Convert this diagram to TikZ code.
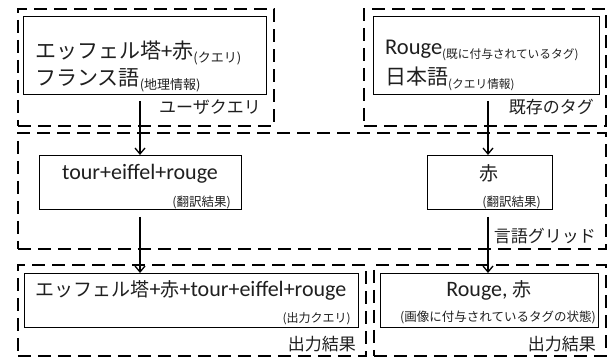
\documentclass[tikz,border=0pt]{standalone}
\usepackage{fontspec}
\setmainfont{Carlito}
\newfontfamily\jpf{Noto Sans CJK JP}
\usetikzlibrary{arrows.meta}
\newcommand\jA[1]{{\fontsize{21}{21}\selectfont\jpf #1}}
\newcommand\jB[1]{{\fontsize{19}{19}\selectfont\jpf #1}}
\newcommand\annoL[1]{\raisebox{-4pt}{\fontsize{13}{13}\selectfont\jpf #1}}
\newcommand\annoR[1]{\raisebox{-4pt}{\fontsize{11.7}{11.7}\selectfont\jpf #1}}
\begin{document}
\begin{tikzpicture}[x=1pt,y=-1pt,
  outer/.style={draw, line width=1.8pt, dash pattern=on 13pt off 7pt, inner sep=0pt, anchor=north west},
  box/.style={draw, line width=1.4pt, inner sep=0pt, anchor=north west},
  txt/.style={inner sep=0pt, text=black!88},
  big/.style={txt, font=\fontsize{22.5}{22.5}\selectfont},
  mid/.style={txt, font=\fontsize{22}{22}\selectfont},
  small/.style={txt, font=\fontsize{12.5}{12.5}\selectfont\jpf},
  lab/.style={txt, font=\fontsize{17}{17}\selectfont\jpf, anchor=base east},
  arr/.style={line width=1.3pt, -{Straight Barb[length=6pt,width=10pt,line width=1.3pt]}}
]
\useasboundingbox (0,0) rectangle (611,358);
% dashed groups
\node[outer, minimum width=256pt, minimum height=117pt] (gUser) at (17,8) {};
\node[outer, minimum width=242pt, minimum height=117pt] (gTag) at (363,8) {};
\node[outer, minimum width=588pt, minimum height=116pt] (gGrid) at (17,132) {};
\node[outer, minimum width=348pt, minimum height=91pt] (gOutL) at (17,264) {};
\node[outer, minimum width=232pt, minimum height=91pt] (gOutR) at (373,264) {};
% solid boxes
\node[box, minimum width=243pt, minimum height=78pt] (query) at (23,16) {};
\node[box, minimum width=226pt, minimum height=78pt] (tag) at (373,16) {};
\node[box, minimum width=202pt, minimum height=54pt] (tour) at (39,155) {};
\node[box, minimum width=125pt, minimum height=54pt] (aka) at (427,155) {};
\node[box, minimum width=334pt, minimum height=54pt] (outq) at (24,273) {};
\node[box, minimum width=218pt, minimum height=54pt] (outt) at (380,273) {};
% texts
\node[big, anchor=base west] (q1) at (35,59) {\jA{エッフェル塔}+\jA{赤}\annoL{(クエリ)}};
\node[big, anchor=base west] (q2) at (35,86) {\jA{フランス語}\annoL{(地理情報)}};
\node[big, anchor=base west] (t1) at (385,55) {Rouge\annoR{(既に付与されているタグ)}};
\node[big, anchor=base west] (t2) at (385,85) {\jA{日本語}\annoR{(クエリ情報)}};
\node[mid, anchor=base] (tr1) at (140,180) {tour+eiffel+rouge};
\node[small, anchor=base east] (tr1n) at (231,207) {(翻訳結果)};
\node[mid, anchor=base] (tr2) at (489,181) {\jB{赤}};
\node[small, anchor=base east] (tr2n) at (541,207) {(翻訳結果)};
\node[mid, anchor=base] (o1) at (191,297) {\jB{エッフェル塔}+\jB{赤}+tour+eiffel+rouge};
\node[small, anchor=base east, font=\fontsize{12}{12}\selectfont\jpf] (o1n) at (351,323) {(出力クエリ)};
\node[mid, anchor=base] (o2) at (489,297) {Rouge, \jB{赤}};
\node[small, anchor=base] (o2n) at (498,322) {(画像に付与されているタグの状態)};
% group labels
\node[lab] (lUser) at (261,114) {ユーザクエリ};
\node[lab] (lTag) at (594,114) {既存のタグ};
\node[lab] (lGrid) at (596,243) {言語グリッド};
\node[lab] (lOutL) at (356,350) {出力結果};
\node[lab] (lOutR) at (596,350) {出力結果};
% arrows
\coordinate (a1) at (140,101);
\coordinate (a2) at (488,101);
\coordinate (a3) at (140,217);
\coordinate (a4) at (488,217);
\draw[arr] (a1) -- (a1 |- tour.north);
\draw[arr] (a2) -- (a2 |- aka.north);
\draw[arr] (a3) -- (a3 |- outq.north);
\draw[arr] (a4) -- (a4 |- outt.north);
\end{tikzpicture}
\end{document}
